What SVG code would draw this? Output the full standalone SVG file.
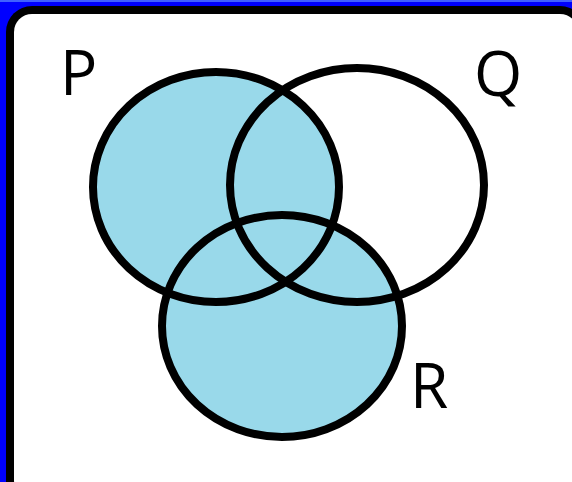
<svg xmlns="http://www.w3.org/2000/svg" width="572" height="482" viewBox="0 0 572 482">
<style>
.fill{fill:#99d9ea;stroke:none}
.ring{fill:none;stroke:#000;stroke-width:8}
.lbl{font-family:"Open Sans","Liberation Sans",sans-serif;font-size:62px;fill:#000}
</style>
<rect x="0" y="0" width="572" height="482" fill="#0000ff"/>
<rect x="0" y="0" width="572" height="2" fill="#4060ff"/>
<rect x="6" y="6" width="580" height="500" rx="26" fill="#000"/>
<rect x="14" y="14" width="564" height="484" rx="18" fill="#fff"/>
<g id="fills">
<ellipse class="fill" cx="216" cy="187" rx="123" ry="115"/>
<ellipse class="fill" cx="282" cy="326" rx="120" ry="111"/>
</g>
<g id="P">
<ellipse class="ring" cx="216" cy="187" rx="123" ry="115"/>
<text class="lbl" x="60" y="95">P</text>
</g>
<g id="Q">
<ellipse class="ring" cx="357" cy="185" rx="127" ry="117"/>
<text class="lbl" x="474" y="96">Q</text>
</g>
<g id="R">
<ellipse class="ring" cx="282" cy="326" rx="120" ry="111"/>
<text class="lbl" x="410" y="408">R</text>
</g>
<g id="connectors"></g>
</svg>
